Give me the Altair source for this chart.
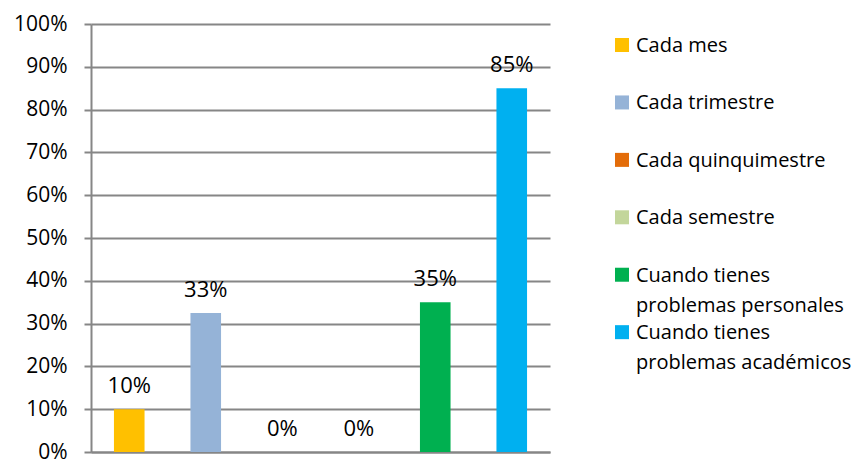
import altair as alt
import pandas as pd

categories = [
    "Cada mes",
    "Cada trimestre",
    "Cada quinquimestre",
    "Cada semestre",
    "Cuando tienes problemas personales",
    "Cuando tienes problemas académicos",
]
legend_labels = [
    "Cada mes",
    "Cada trimestre",
    "Cada quinquimestre",
    "Cada semestre",
    "Cuando tienes\nproblemas personales",
    "Cuando tienes\nproblemas académicos",
]
values = [0.10, 0.325, 0.0, 0.0, 0.35, 0.85]
value_labels = ["10%", "33%", "0%", "0%", "35%", "85%"]
colors = ["#FFC000", "#95B3D7", "#E36C09", "#C3D69B", "#00B050", "#00B0F0"]
y_ticks = [0.0, 0.1, 0.2, 0.3, 0.4, 0.5, 0.6, 0.7, 0.8, 0.9, 1.0]

df = pd.DataFrame({
    "cat": categories,
    "value": values,
    "label": value_labels,
    "legend": legend_labels,
})

FONT = "Open Sans"
GRAY = "#868686"

color_scale = alt.Scale(domain=categories, range=colors)

x_enc = alt.X(
    "cat:N", sort=categories,
    scale=alt.Scale(paddingInner=0.6, paddingOuter=0.3),
    axis=alt.Axis(labels=False, ticks=False, title=None, grid=False,
                  domainColor=GRAY, domainWidth=2),
)
y_enc = alt.Y(
    "value:Q",
    scale=alt.Scale(domain=[0, 1], nice=False),
    axis=alt.Axis(values=y_ticks, format=".0%", title=None, grid=True,
                  gridColor=GRAY, gridWidth=2, domainColor=GRAY, domainWidth=2,
                  tickColor=GRAY, tickWidth=2, tickSize=7, labelPadding=17,
                  labelFont=FONT, labelFontSize=21, labelColor="#000"),
)

bars = alt.Chart(df).mark_bar().encode(
    x=x_enc, y=y_enc,
    color=alt.Color("cat:N", scale=color_scale, legend=None),
)
texts = alt.Chart(df).mark_text(
    baseline="middle", dy=-23, font=FONT, fontSize=22, color="#000"
).encode(
    x=alt.X("cat:N", sort=categories),
    y="value:Q",
    text="label:N",
)
main = alt.layer(bars, texts).properties(width=459, height=428)

legend_y = alt.Y(
    "cat:N", sort=categories,
    scale=alt.Scale(type="point", padding=1, align=0.183),
    axis=None,
)
swatches = alt.Chart(df).mark_square(size=196, opacity=1, filled=True).encode(
    x=alt.value(7), y=legend_y,
    color=alt.Color("cat:N", scale=color_scale, legend=None),
)
ltext = alt.Chart(df).mark_text(
    align="left", baseline="top", dy=-9, lineBreak="\n", lineHeight=30,
    font=FONT, fontSize=20, color="#000"
).encode(
    x=alt.value(21), y=legend_y, text="legend:N",
)
legend = alt.layer(swatches, ltext).properties(width=220, height=402)

chart = alt.hconcat(main, legend, spacing=65).configure_view(
    stroke=None
).properties(
    padding={"left": 5, "top": 5, "right": 0, "bottom": 0}
)

chart.save("out.html", embed_options={"renderer": "svg", "actions": False})
